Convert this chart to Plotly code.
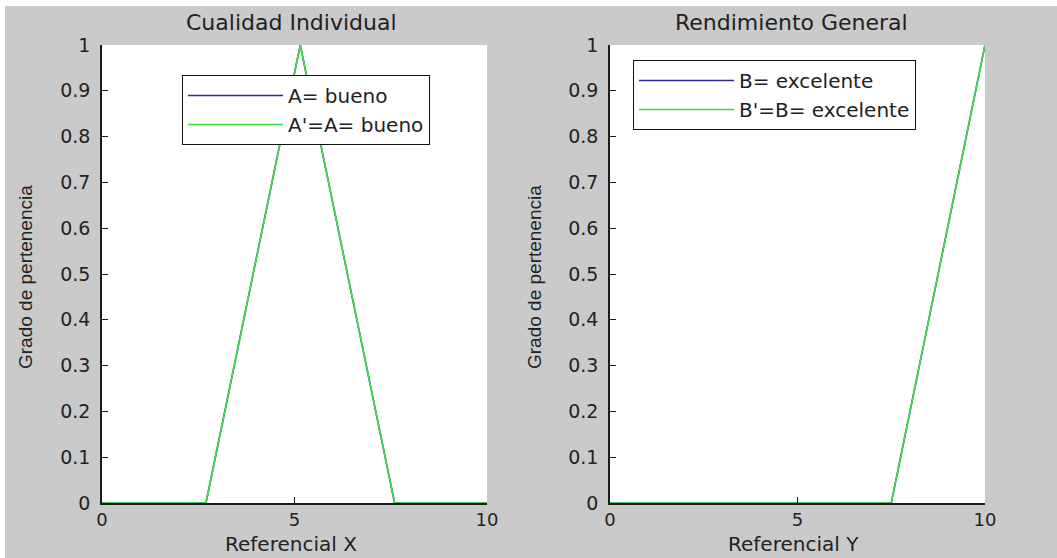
import plotly.graph_objects as go
from plotly.subplots import make_subplots

# Datos: funciones de pertenencia
x_a = [0, 2.7, 5.15, 7.6, 10]
y_a = [0, 0, 1, 0, 0]
x_b = [0, 7.5, 10]
y_b = [0, 0, 1]

y_ticks = [0, 0.1, 0.2, 0.3, 0.4, 0.5, 0.6, 0.7, 0.8, 0.9, 1]
y_labels = ["0", "0.1", "0.2", "0.3", "0.4", "0.5", "0.6", "0.7", "0.8", "0.9", "1"]
x_ticks = [0, 5, 10]

W, H = 1057, 558
GRIS = "#cacaca"
AZUL = "#2a2a9c"
VERDE = "#44dc44"
ANCHA = "DejaVu Sans, Verdana, sans-serif"
ESTRECHA = "Liberation Sans, Arial, sans-serif"

fig = make_subplots(rows=1, cols=2)

fig.add_trace(go.Scatter(x=x_a, y=y_a, mode="lines", name="A= bueno",
                         line=dict(color=AZUL, width=1.6), legend="legend"), row=1, col=1)
fig.add_trace(go.Scatter(x=x_a, y=y_a, mode="lines", name="A'=A= bueno",
                         line=dict(color=VERDE, width=1.6), legend="legend"), row=1, col=1)
fig.add_trace(go.Scatter(x=x_b, y=y_b, mode="lines", name="B= excelente",
                         line=dict(color=AZUL, width=1.6), legend="legend2"), row=1, col=2)
fig.add_trace(go.Scatter(x=x_b, y=y_b, mode="lines", name="B'=B= excelente",
                         line=dict(color=VERDE, width=1.6), legend="legend2"), row=1, col=2)

px_x = lambda p: p / W
px_y = lambda p: (H - p) / H

eje = dict(showline=True, linecolor="#1a1a1a", linewidth=1.5, mirror=False, automargin=False,
           ticks="inside", ticklen=6, tickcolor="#1a1a1a", showgrid=False, zeroline=False,
           tickfont=dict(family=ANCHA, size=19, color="#222"))

fig.update_xaxes(range=[0, 10], tickvals=x_ticks, **eje)
fig.update_xaxes(tickfont_size=18)
fig.update_yaxes(range=[0, 1], tickvals=y_ticks, ticktext=y_labels,
                 ticklabelstandoff=6, **eje)

fig.update_layout(
    xaxis=dict(domain=[px_x(102), px_x(487)]),
    xaxis2=dict(domain=[px_x(610), px_x(985)]),
    yaxis=dict(domain=[px_y(503), px_y(45)]),
    yaxis2=dict(domain=[px_y(503), px_y(45)]),
)

leyenda = dict(bgcolor="white", bordercolor="#111", borderwidth=1,
               font=dict(family=ANCHA, size=20, color="#222"),
               xanchor="left", yanchor="top", itemwidth=95, tracegroupgap=0)

fig.update_layout(
    width=W, height=H,
    margin=dict(l=0, r=0, t=0, b=0),
    paper_bgcolor=GRIS, plot_bgcolor="white",
    font=dict(family=ANCHA, size=20, color="#222"),
    legend=dict(x=px_x(182), y=px_y(75), **leyenda),
    legend2=dict(x=px_x(633), y=px_y(60), **leyenda),
    showlegend=True,
)

# bordes blancos de la captura
fig.add_shape(type="rect", xref="paper", yref="paper", x0=0, x1=px_x(5), y0=0, y1=1,
              fillcolor="white", line_width=0, layer="below")
fig.add_shape(type="rect", xref="paper", yref="paper", x0=0, x1=1, y0=px_y(6), y1=1,
              fillcolor="white", line_width=0, layer="below")

textos = [
    ("Cualidad Individual", 291, 22, 0, ANCHA, 22),
    ("Rendimiento General", 791, 22, 0, ANCHA, 22),
    ("Referencial X", 291, 544, 0, ANCHA, 20),
    ("Referencial Y", 793, 544, 0, ANCHA, 20),
    ("Grado de pertenencia", 25, 277, -90, ESTRECHA, 19),
    ("Grado de pertenencia", 534, 277, -90, ESTRECHA, 19),
]
for t, x, y, ang, fam, tam in textos:
    fig.add_annotation(text=t, x=px_x(x), y=px_y(y), xref="paper", yref="paper",
                       showarrow=False, textangle=ang, xanchor="center", yanchor="middle",
                       font=dict(family=fam, size=tam, color="#222"))

fig.write_html("out.html", config={"displayModeBar": False},
               post_script="document.body.style.margin='0';")
